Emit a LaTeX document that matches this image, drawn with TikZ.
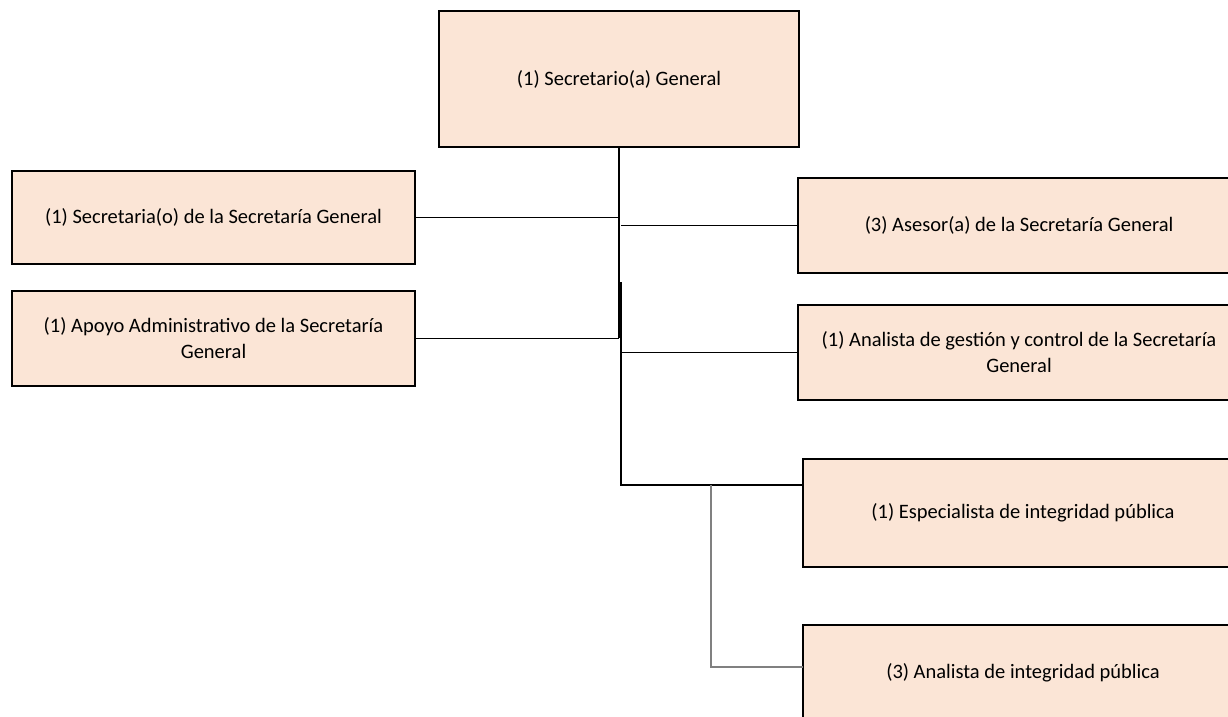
\documentclass[tikz,border=0pt]{standalone}
\usepackage{fontspec}
\setmainfont{Carlito}
\definecolor{boxfill}{HTML}{FBE5D6}
\definecolor{thinlink}{HTML}{808080}
\begin{document}
\begin{tikzpicture}[x=1pt,y=-1pt,
  orgbox/.style={draw=black, fill=boxfill, line width=2pt, rectangle,
    inner sep=0pt, align=center,
    font=\fontsize{20.5}{26}\selectfont},
  link/.style={draw=black, line width=1.8pt},
  sublink/.style={draw=thinlink, line width=1.3pt}]
\useasboundingbox (0,0) rectangle (1228,717);

% boxes
\node[orgbox, minimum width=360pt, minimum height=136pt] (top) at (619,79) {(1) Secretario(a) General};
\node[orgbox, minimum width=403pt, minimum height=93pt] (L1) at (213.5,217.5) {(1) Secretaria(o) de la Secretaría General};
\node[orgbox, minimum width=403pt, minimum height=95pt] (L2) at (213.5,338.5) {(1) Apoyo Administrativo de la Secretaría\\General};
\node[orgbox, minimum width=442pt, minimum height=95pt] (R1) at (1019,225.5) {(3) Asesor(a) de la Secretaría General};
\node[orgbox, minimum width=442pt, minimum height=95pt] (R2) at (1019,352.5) {(1) Analista de gestión y control de la Secretaría\\General};
\node[orgbox, minimum width=440pt, minimum height=108pt] (R3) at (1023,513) {(1) Especialista de integridad pública};
\node[orgbox, minimum width=440pt, minimum height=96pt] (R4) at (1023,673) {(3) Analista de integridad pública};

% trunk junctions
\coordinate (j1) at (619,338);
\coordinate (t2) at (621,282);
\coordinate (elbow) at (621,485);
\coordinate (r3in) at (803,485);
\coordinate (g) at (711,485);
\coordinate (r4in) at (803,667);

% connectors
\draw[link] (top.south) -- (j1);
\draw[link] (t2) -- (elbow) -- (r3in);
\draw[link] (L1.east) -- (L1.east -| j1);
\draw[link] (L2.east) -- (L2.east -| j1);
\draw[link] (R1.west) -- (R1.west -| t2);
\draw[link] (R2.west) -- (R2.west -| t2);
\draw[sublink] (g) |- (r4in);
\end{tikzpicture}
\end{document}
